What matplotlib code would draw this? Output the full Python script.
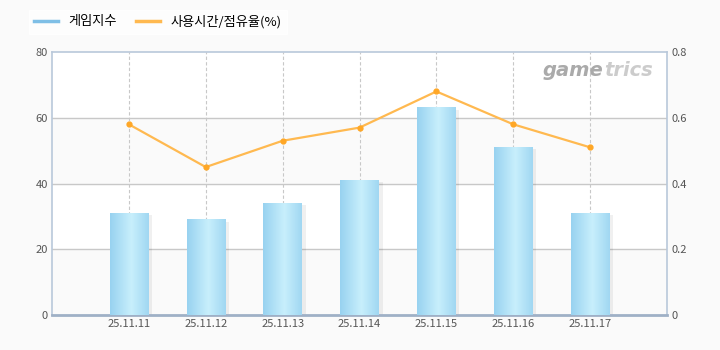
import numpy as np
import matplotlib
matplotlib.use('Agg')
from matplotlib import pyplot as plt
from matplotlib.lines import Line2D

plt.rcParams['font.family'] = ['Noto Sans CJK KR', 'DejaVu Sans']

dates = ['25.11.11', '25.11.12', '25.11.13', '25.11.14', '25.11.15', '25.11.16', '25.11.17']
game_index = [31, 29, 34, 41, 63, 51, 31]
share = [0.58, 0.45, 0.53, 0.57, 0.68, 0.58, 0.51]
left_ticks = [0, 20, 40, 60, 80]
right_ticks = [0, 0.2, 0.4, 0.6, 0.8]

fig = plt.figure(figsize=(7.2, 3.5), dpi=100, facecolor='#fafafa')
ax = fig.add_axes([52 / 720, 35 / 350, 615 / 720, 263 / 350])
ax.set_facecolor('white')
x = np.arange(1, len(dates) + 1)

# 배경 밴드
for lo in (0, 40):
    ax.axhspan(lo, lo + 20, color='#fafafa', zorder=0)
for t in left_ticks[1:-1]:
    ax.axhline(t, color='#c8c8c8', lw=1, zorder=1)
for xi in x:
    ax.axvline(xi, color='#c8c8c8', lw=0.8, ls=(0, (3, 2)), zorder=1)

# 그라데이션 막대
grad = np.linspace(0, 1, 64)
prof = 1 - np.abs(grad - 0.55) / 0.55
c_edge = np.array([0x98, 0xd2, 0xf0]) / 255
c_mid = np.array([0xc8, 0xef, 0xfc]) / 255
img = (c_edge[None, :] * (1 - prof[:, None]) + c_mid[None, :] * prof[:, None])[None, :, :]
w = 0.5
for xi, v in zip(x, game_index):
    ax.add_patch(plt.Rectangle((xi - w / 2 + 0.05, 0), w, v - 0.6, color='#000000',
                               alpha=0.06, lw=0, zorder=2))
    ax.imshow(img, extent=[xi - w / 2, xi + w / 2, 0, v], aspect='auto',
              interpolation='bilinear', zorder=3)
ax.set_xlim(0, 8)
ax.set_ylim(0, 80)

ax.set_xticks(x)
ax.set_xticklabels(dates)
ax.set_yticks(left_ticks)
ax.tick_params(length=0, labelsize=8, colors='#555555', pad=3)

for s in ax.spines.values():
    s.set_color('#b9c8da')
    s.set_linewidth(1.2)
ax.spines['bottom'].set_color('#9fb0c6')
ax.spines['bottom'].set_linewidth(2)

ax2 = ax.twinx()
ax2.set_ylim(0, 0.8)
ax2.set_yticks(right_ticks)
ax2.set_yticklabels(['0', '0.2', '0.4', '0.6', '0.8'])
ax2.tick_params(length=0, labelsize=8, colors='#555555', pad=3)
for s in ax2.spines.values():
    s.set_visible(False)
ax2.plot(x, share, color='#ffb950', lw=1.6, marker='o', ms=3.5,
         mfc='#ffa726', mec='#ffa726', zorder=5)

# 워터마크
fig.text(603 / 720, 1 - 70 / 350, 'game', fontsize=14, fontweight='bold',
         style='italic', color='#aaaaaa', family='DejaVu Sans', va='center', ha='right')
fig.text(604 / 720, 1 - 70 / 350, 'trics', fontsize=14, fontweight='bold',
         style='italic', color='#cccccc', family='DejaVu Sans', va='center', ha='left')

# 범례
handles = [Line2D([], [], color='#7fbfe6', lw=2.5),
           Line2D([], [], color='#ffb950', lw=2.5)]
leg = fig.legend(handles, ['게임지수', '사용시간/점유율(%)'], loc='upper left',
                 bbox_to_anchor=(22 / 720, 1 - 3 / 350), ncol=2, frameon=True,
                 fontsize=9.5, handlelength=1.8, columnspacing=1.5,
                 borderpad=0.4, fancybox=False)
leg.get_frame().set_edgecolor('white')
leg.get_frame().set_facecolor('white')

fig.savefig('out.png', dpi=100, facecolor=fig.get_facecolor())
